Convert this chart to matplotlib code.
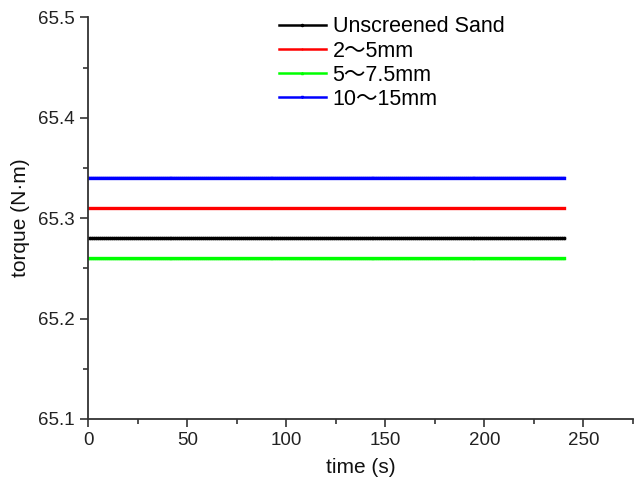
import matplotlib.pyplot as plt
from matplotlib.ticker import MultipleLocator
import numpy as np

# sampled once per second over the 240 s run
time_s = np.arange(0, 241, 1)

labels = ['Unscreened Sand', '2～5mm', '5～7.5mm', '10～15mm']
torque = [65.28, 65.31, 65.26, 65.34]
colors = ['#000000', '#ff0000', '#00ff00', '#0000ff']
markers = ['o', '|', '^', 'v']

plt.rcParams['font.family'] = ['Liberation Sans', 'Noto Sans CJK SC', 'DejaVu Sans']

fig = plt.figure(figsize=(6.34, 4.88), dpi=100)
ax = fig.add_axes([0.1393, 0.1414, 0.8590, 0.8231])

for lab, val, c, m in zip(labels, torque, colors, markers):
    ax.plot(time_s, np.full(len(time_s), val), color=c, lw=2.4, marker=m,
            markersize=1.5, label=lab)

ax.set_xlim(0, 275)
ax.set_ylim(65.1, 65.5)
ax.xaxis.set_major_locator(MultipleLocator(50))
ax.xaxis.set_minor_locator(MultipleLocator(25))
ax.yaxis.set_major_locator(MultipleLocator(0.1))
ax.yaxis.set_minor_locator(MultipleLocator(0.05))
ax.yaxis.set_major_formatter(plt.FormatStrFormatter('%.1f'))

for s in ['top', 'right']:
    ax.spines[s].set_visible(False)
for s in ['left', 'bottom']:
    ax.spines[s].set_color('#333333')
    ax.spines[s].set_linewidth(1.3)

ax.tick_params(which='major', direction='out', length=6, width=1.2,
               color='#333333', labelsize=13.5, labelcolor='#222222')
ax.tick_params(which='minor', direction='out', length=3.5, width=1.2,
               color='#333333')

ax.set_xlabel('time (s)', fontsize=15, color='#111111', labelpad=6)
ax.set_ylabel('torque (N·m)', fontsize=15, color='#111111', labelpad=6)

leg = ax.legend(loc='upper left', bbox_to_anchor=(0.322, 1.04), frameon=False,
                fontsize=15.5, handlelength=2.2, handletextpad=0.3,
                labelspacing=0.15, borderpad=0.2)
for h in leg.legend_handles:
    h.set_linewidth(1.8)

fig.savefig('out.png', dpi=100)
